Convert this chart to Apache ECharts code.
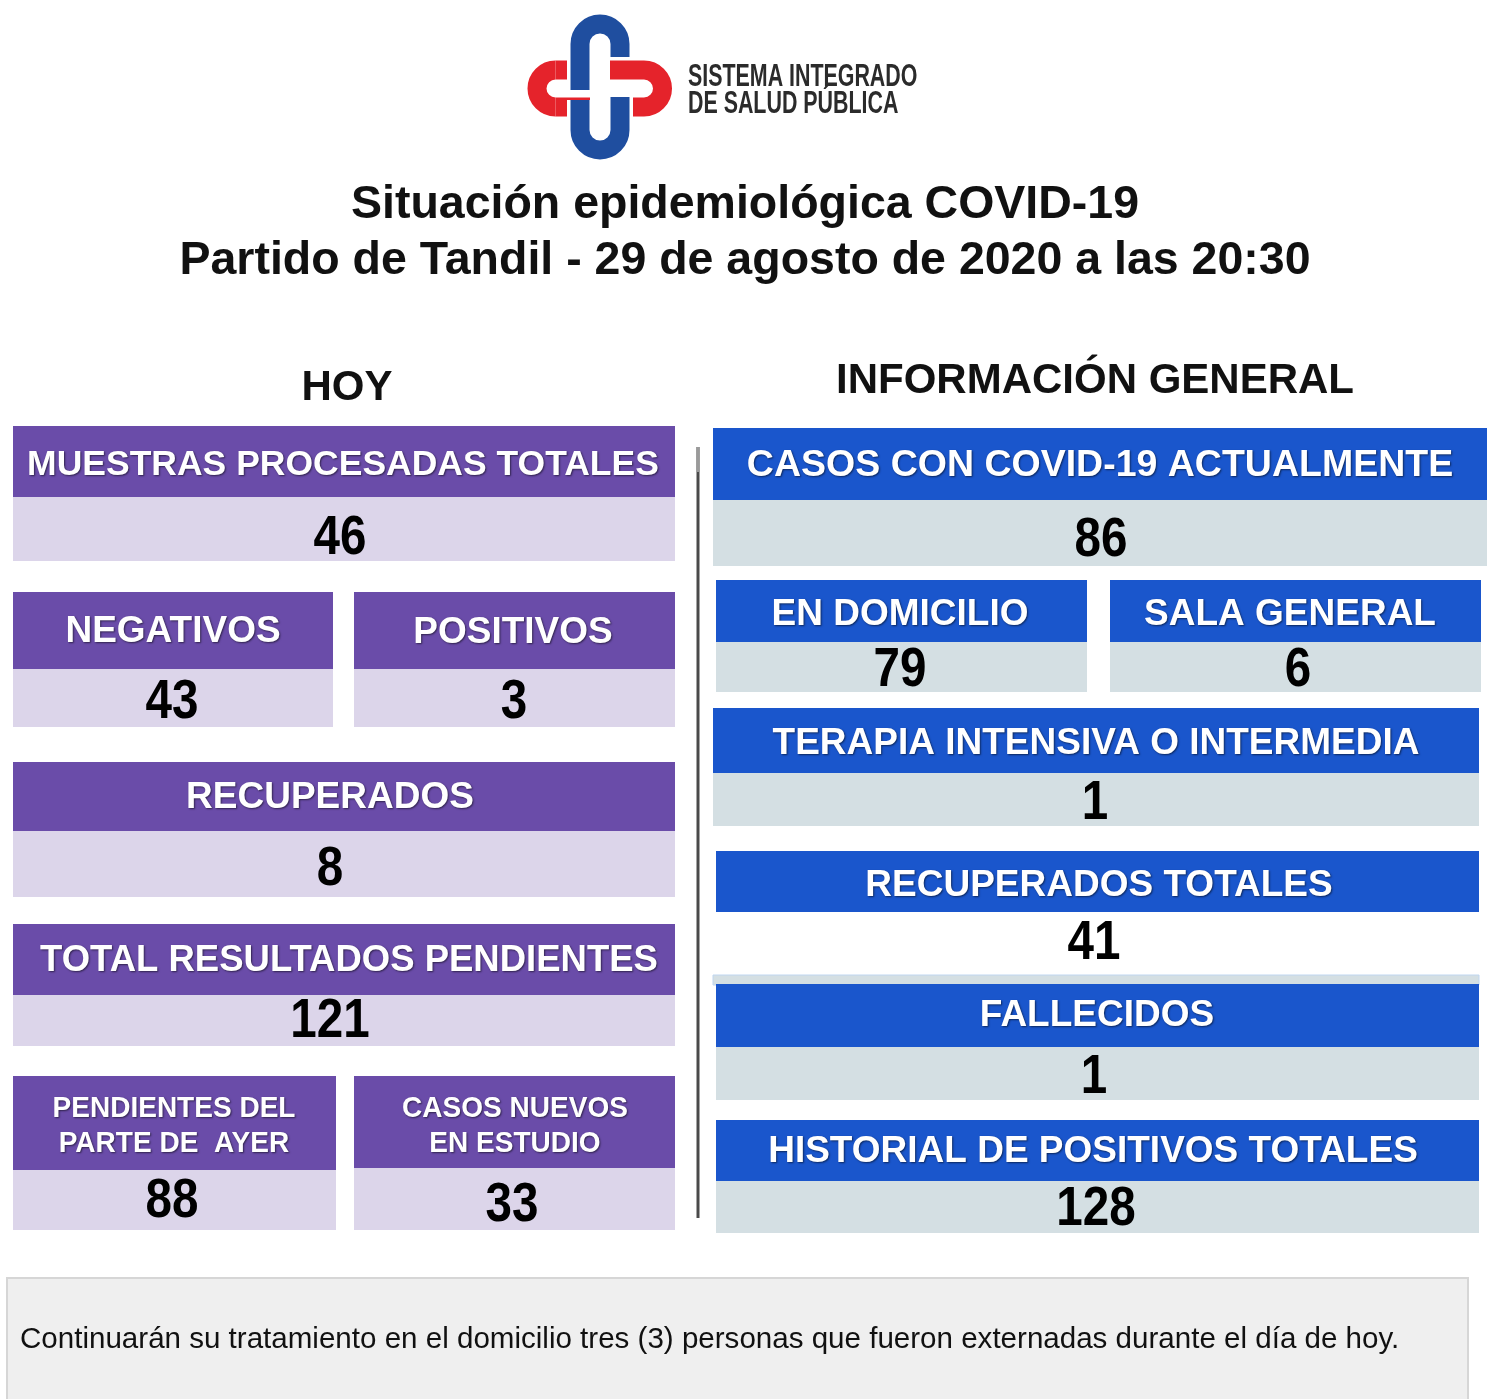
<!DOCTYPE html>
<html>
<head>
<meta charset="utf-8">
<script src="https://cdn.jsdelivr.net/npm/echarts@6/dist/echarts.min.js"></script>
<style>
html,body{margin:0;padding:0;background:#fff;}
#chart{width:1500px;height:1399px;}
</style>
</head>
<body>
<div id="chart"></div>
<script>
// ---------- DATA ----------
const logoLines = ["SISTEMA INTEGRADO", "DE SALUD PÚBLICA"];
const titleLines = ["Situación epidemiológica COVID-19", "Partido de Tandil - 29 de agosto de 2020 a las 20:30"];
const sectionTitles = ["HOY", "INFORMACIÓN GENERAL"];
const hoyLabels = ["MUESTRAS PROCESADAS TOTALES", "NEGATIVOS", "POSITIVOS", "RECUPERADOS",
  "TOTAL RESULTADOS PENDIENTES", "PENDIENTES DEL\nPARTE DE  AYER", "CASOS NUEVOS\nEN ESTUDIO"];
const hoyValues = [46, 43, 3, 8, 121, 88, 33];
const generalLabels = ["CASOS CON COVID-19 ACTUALMENTE", "EN DOMICILIO", "SALA GENERAL",
  "TERAPIA INTENSIVA O INTERMEDIA", "RECUPERADOS TOTALES", "FALLECIDOS", "HISTORIAL DE POSITIVOS TOTALES"];
const generalValues = [86, 79, 6, 1, 41, 1, 128];
const noteText = "Continuarán su tratamiento en el domicilio tres (3) personas que fueron externadas durante el día de hoy.";

// ---------- LAYOUT (positions / sizes only) ----------
// [x, top, width, headerH, bandH, labelCx, labelCy, valueCx, valueCy, labelSize]
const hoyLayout = [
  [13, 426, 662, 71, 64, 343, 465, 340, 539, 35.5],
  [13, 592, 320, 77, 58, 173, 632, 172, 703, 37],
  [354, 592, 321, 77, 58, 513, 633, 514, 703, 37],
  [13, 762, 662, 69, 66, 330, 798, 330, 870, 37],
  [13, 924, 662, 71, 51, 349, 961, 330, 1022, 36.5],
  [13, 1076, 323, 94, 60, 174, 1126, 172, 1202, 29.5],
  [354, 1076, 321, 92, 62, 515, 1126, 512, 1206, 29.5]
];
const genLayout = [
  [713, 428, 774, 72, 66, 1100, 466, 1101, 541, 37.5],
  [716, 580, 371, 62, 50, 900, 615, 900, 671, 37],
  [1110, 580, 371, 62, 50, 1290, 615, 1298, 671, 37],
  [713, 708, 766, 65, 53, 1096, 744, 1095, 804, 37],
  [716, 851, 763, 61, 0, 1099, 886, 1094, 944, 37],
  [716, 984, 763, 63, 53, 1097, 1016, 1094, 1078, 37],
  [716, 1120, 763, 61, 52, 1093, 1152, 1096, 1210, 37]
];

const PURPLE = '#6A4CA9', LAVENDER = '#DCD5EA', BLUE = '#1A56CC', BLUEGREY = '#D4DFE3';
const FONT = '"Liberation Sans", Arial, sans-serif';

function text(str, cx, cy, size, fill, opts) {
  opts = opts || {};
  const weight = opts.weight || 'bold';
  const el = {
    type: 'text', x: cx, y: cy, scaleX: opts.scaleX || 1, z: 30,
    style: {
      text: str, x: 0, y: 0, fill: fill,
      font: weight + ' ' + size + 'px ' + FONT,
      textAlign: opts.align || 'center', align: opts.align || 'center',
      textVerticalAlign: 'middle', verticalAlign: 'middle',
      lineHeight: opts.lineHeight || size * 1.15
    }
  };
  if (opts.shadow) {
    el.style.textShadowColor = 'rgba(0,0,0,0.55)';
    el.style.textShadowBlur = 2;
    el.style.textShadowOffsetX = 1;
    el.style.textShadowOffsetY = 1;
  }
  return el;
}
function rect(x, y, w, h, fill, extra) {
  return Object.assign({ type: 'rect', shape: { x: x, y: y, width: w, height: h }, style: { fill: fill }, z: 1 }, extra || {});
}

const g = [];
g.push(rect(0, 0, 1500, 1399, '#ffffff', { z: 0 }));

// Logo: four interlocking link strokes (line + arc + line), each with a white halo
const RED = '#E5232B', NAVY = '#1F4E9F';
const PI = Math.PI;
const logoPieces = [
  [RED, [['L', 592, 70, 555.5, 70], ['A', 555.5, 88.5, 18.5, PI / 2, 3 * PI / 2], ['L', 555.5, 107, 590, 107]]],
  [NAVY, [['L', 580, 90, 580, 44], ['A', 600, 44, 20, PI, 2 * PI], ['L', 620, 44, 620, 78]]],
  [RED, [['L', 608, 107, 644, 107], ['A', 644, 88.5, 18.5, -PI / 2, PI / 2], ['L', 644, 70, 610, 70]]],
  [NAVY, [['L', 620, 97, 620, 130], ['A', 600, 130, 20, 0, PI], ['L', 580, 130, 580, 100]]]
];
logoPieces.forEach(function (piece, i) {
  [['#ffffff', 26, 2 + i * 2], [piece[0], 19, 3 + i * 2]].forEach(function (pass) {
    piece[1].forEach(function (s) {
      if (s[0] === 'L') {
        g.push({ type: 'line', z: pass[2], shape: { x1: s[1], y1: s[2], x2: s[3], y2: s[4] },
          style: { stroke: pass[0], lineWidth: pass[1], lineCap: 'butt' } });
      } else {
        g.push({ type: 'arc', z: pass[2], shape: { cx: s[1], cy: s[2], r: s[3], startAngle: s[4], endAngle: s[5], clockwise: true },
          style: { stroke: pass[0], lineWidth: pass[1], fill: 'none', lineCap: 'butt' } });
      }
    });
  });
});
g.push(text(logoLines[0], 688, 77, 31, '#2b2b2b', { align: 'left', scaleX: 0.69 }));
g.push(text(logoLines[1], 688, 104, 31, '#2b2b2b', { align: 'left', scaleX: 0.69 }));

// Titles
g.push(text(titleLines[0], 745, 205, 46.5, '#111111'));
g.push(text(titleLines[1], 745, 261, 46.5, '#111111'));
g.push(text(sectionTitles[0], 347, 388, 42, '#111111'));
g.push(text(sectionTitles[1], 1095, 381, 42, '#111111'));

// Divider
g.push({ type: 'line', z: 2, shape: { x1: 698, y1: 447, x2: 698, y2: 1218 }, style: { stroke: '#4a4a4a', lineWidth: 3 } });
g.push({ type: 'line', z: 3, shape: { x1: 698, y1: 447, x2: 698, y2: 472 }, style: { stroke: '#9a9a9a', lineWidth: 3 } });

function cards(labels, values, layout, headColor, bandColor) {
  labels.forEach(function (lab, i) {
    const L = layout[i];
    const x = L[0], top = L[1], w = L[2], hh = L[3], bh = L[4];
    g.push(rect(x, top, w, hh, headColor));
    if (bh > 0) g.push(rect(x, top + hh, w, bh, bandColor));
    const twoLines = lab.indexOf('\n') >= 0;
    g.push(text(lab, L[5], L[6], L[9], '#ffffff', { shadow: true, lineHeight: twoLines ? 35 : null, scaleX: twoLines ? 0.95 : 1 }));
    g.push(text(String(values[i]), L[7], L[8], 56, '#000000', { scaleX: 0.85 }));
  });
}
cards(hoyLabels, hoyValues, hoyLayout, PURPLE, LAVENDER);
// thin strip above FALLECIDOS
g.push(rect(713, 975, 766, 10, BLUEGREY, { style: { fill: BLUEGREY, stroke: '#BFD6F0', lineWidth: 1 } }));
cards(generalLabels, generalValues, genLayout, BLUE, BLUEGREY);

// Note box
g.push({ type: 'rect', z: 1, shape: { x: 7, y: 1278, width: 1461, height: 130 },
  style: { fill: '#EFEFEF', stroke: '#D6D6D6', lineWidth: 2 } });
g.push(text(noteText, 20, 1340, 30, '#111111', { weight: 'normal', align: 'left', scaleX: 0.985 }));

const chart = echarts.init(document.getElementById('chart'), null, { renderer: 'canvas' });
chart.setOption({
  backgroundColor: '#ffffff',
  animation: false,
  graphic: { elements: g }
});
</script>
</body>
</html>
